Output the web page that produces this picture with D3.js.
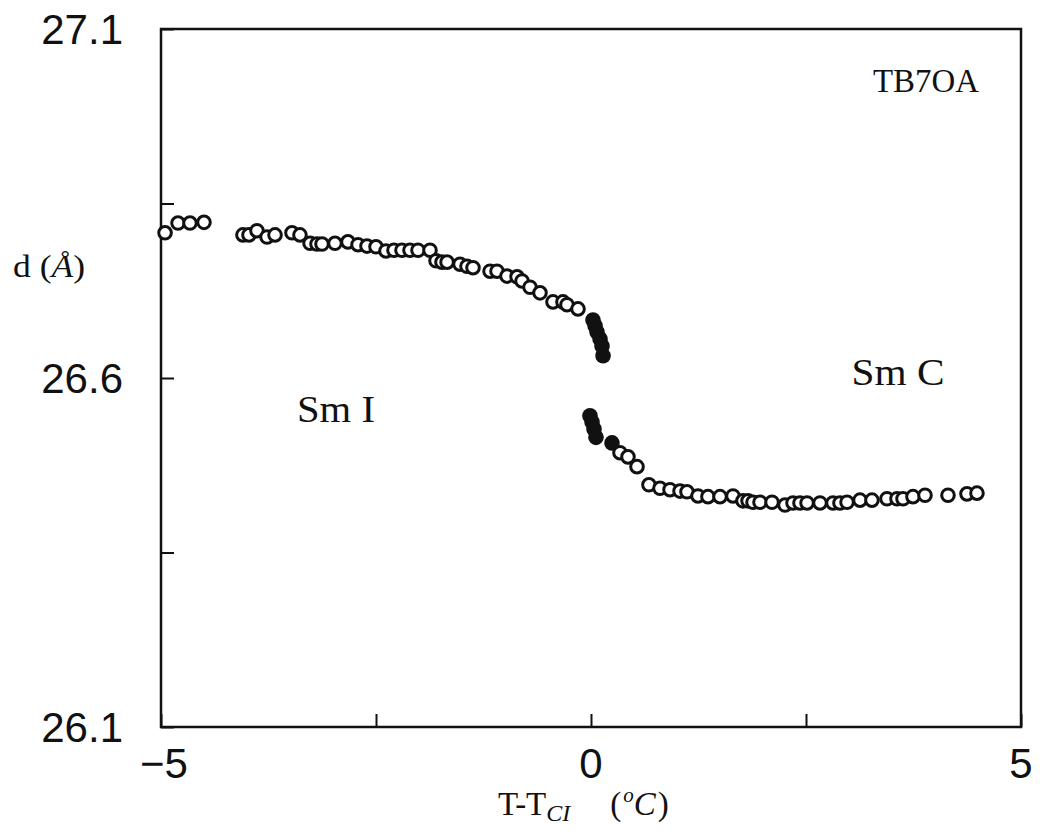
<!DOCTYPE html>
<html>
<head>
<meta charset="utf-8">
<script src="https://cdn.jsdelivr.net/npm/d3@7"></script>
<style>
  body { margin: 0; background: #fff; }
  svg text { fill: #111; }
</style>
</head>
<body>
<div id="chart"></div>
<script>
// open circles (measured, T - T_CI in °C, d in Å)
const openT = [-4.953, -4.802, -4.663, -4.500, -4.047, -3.977, -3.884, -3.767, -3.674, -3.477,
  -3.384, -3.267, -3.186, -3.128, -2.977, -2.826, -2.709, -2.605, -2.500, -2.384,
  -2.291, -2.198, -2.105, -2.012, -1.872, -1.802, -1.733, -1.674, -1.523, -1.442,
  -1.372, -1.174, -1.093, -0.977, -0.860, -0.802, -0.709, -0.593, -0.442, -0.326,
  -0.279, -0.151,
  0.337, 0.430, 0.535, 0.674, 0.802, 0.919, 1.035, 1.116, 1.244, 1.360,
  1.500, 1.651, 1.767, 1.826, 1.884, 1.965, 2.105, 2.256, 2.349, 2.430,
  2.512, 2.663, 2.814, 2.895, 2.977, 3.128, 3.267, 3.442, 3.558, 3.628,
  3.744, 3.884, 4.151, 4.372, 4.488]
const openD = [26.808, 26.822, 26.822, 26.823, 26.805, 26.805, 26.811, 26.802, 26.805, 26.808,
  26.805, 26.793, 26.792, 26.792, 26.793, 26.795, 26.791, 26.789, 26.788, 26.782,
  26.783, 26.783, 26.783, 26.783, 26.783, 26.768, 26.766, 26.766, 26.763, 26.760,
  26.758, 26.753, 26.753, 26.746, 26.745, 26.739, 26.730, 26.722, 26.709, 26.709,
  26.705, 26.699,
  26.493, 26.487, 26.473, 26.447, 26.442, 26.440, 26.438, 26.437, 26.431, 26.430,
  26.430, 26.431, 26.424, 26.424, 26.422, 26.422, 26.422, 26.418, 26.421, 26.421,
  26.421, 26.421, 26.421, 26.421, 26.422, 26.425, 26.425, 26.427, 26.427, 26.427,
  26.430, 26.432, 26.432, 26.434, 26.435]

// filled circles near the transition
const filledT = [0.023, 0.047, 0.070, 0.105, 0.128, 0.140, -0.012, 0.012, 0.035, 0.058, 0.244]
const filledD = [26.683, 26.675, 26.666, 26.656, 26.646, 26.632, 26.546, 26.537, 26.527, 26.515, 26.507]

const xTicks = [-5, -2.5, 0, 2.5, 5]
const xLabels = [-5, 0, 5]
const yTicks = [26.1, 26.35, 26.6, 26.85, 27.1]
const yLabels = [26.1, 26.6, 27.1]

const width = 1040, height = 835
const margin = { top: 29, right: 19, bottom: 108, left: 161 }
const innerW = width - margin.left - margin.right
const innerH = height - margin.top - margin.bottom

const svg = d3.select("#chart").append("svg")
  .attr("width", width)
  .attr("height", height)

const x = d3.scaleLinear().domain([-5, 5]).range([0, innerW])
const y = d3.scaleLinear().domain([26.1, 27.1]).range([innerH, 0])

const g = svg.append("g").attr("transform", `translate(${margin.left},${margin.top})`)

// frame
g.append("rect")
  .attr("width", innerW).attr("height", innerH)
  .attr("fill", "none").attr("stroke", "#111").attr("stroke-width", 2.5)

// inward ticks, labels drawn separately
g.append("g")
  .attr("transform", `translate(0,${innerH})`)
  .call(d3.axisBottom(x).tickValues(xTicks).tickSize(-13).tickFormat(""))
g.append("g")
  .call(d3.axisLeft(y).tickValues(yTicks).tickSize(-13).tickFormat(""))
g.selectAll(".domain").remove()
g.selectAll(".tick line").attr("stroke", "#111").attr("stroke-width", 2)

const sans = "'Liberation Sans', Arial, sans-serif"
const serif = "'Liberation Serif', 'Times New Roman', serif"

g.selectAll(".xlab").data(xLabels).enter().append("text")
  .attr("class", "xlab")
  .attr("x", d => x(d) + (d < 0 ? 3 : 0))
  .attr("y", innerH + 51)
  .attr("text-anchor", "middle")
  .attr("font-family", sans).attr("font-size", 42)
  .text(d => d < 0 ? "\u2212" + Math.abs(d) : d)

g.selectAll(".ylab").data(yLabels).enter().append("text")
  .attr("class", "ylab")
  .attr("x", -38)
  .attr("y", d => y(d) + 15)
  .attr("text-anchor", "end")
  .attr("font-family", sans).attr("font-size", 42)
  .text(d => d.toFixed(1))

// points
g.selectAll(".open").data(openT.map((t, i) => [t, openD[i]])).enter().append("circle")
  .attr("class", "open")
  .attr("cx", d => x(d[0])).attr("cy", d => y(d[1]))
  .attr("r", 6.3)
  .attr("fill", "#fff").attr("stroke", "#111").attr("stroke-width", 3)

g.selectAll(".filled").data(filledT.map((t, i) => [t, filledD[i]])).enter().append("circle")
  .attr("class", "filled")
  .attr("cx", d => x(d[0])).attr("cy", d => y(d[1]))
  .attr("r", 7.8)
  .attr("fill", "#111")

// annotations
svg.append("text")
  .attr("x", 926).attr("y", 92)
  .attr("text-anchor", "middle")
  .attr("font-family", serif).attr("font-size", 34)
  .attr("textLength", 106).attr("lengthAdjust", "spacingAndGlyphs")
  .text("TB7OA")

svg.append("text")
  .attr("x", 336).attr("y", 422)
  .attr("text-anchor", "middle")
  .attr("font-family", serif).attr("font-size", 38)
  .attr("textLength", 78).attr("lengthAdjust", "spacingAndGlyphs")
  .text("Sm I")

svg.append("text")
  .attr("x", 898).attr("y", 385)
  .attr("text-anchor", "middle")
  .attr("font-family", serif).attr("font-size", 38)
  .attr("textLength", 93).attr("lengthAdjust", "spacingAndGlyphs")
  .text("Sm C")

// y label
const yl = svg.append("text")
  .attr("x", 13).attr("y", 277)
  .attr("font-family", serif).attr("font-size", 32)
  .attr("textLength", 72).attr("lengthAdjust", "spacingAndGlyphs")
yl.append("tspan").text("d (")
yl.append("tspan").attr("font-style", "italic").text("Å")
yl.append("tspan").text(")")

// x label
const xl = svg.append("text")
  .attr("x", 498).attr("y", 815)
  .attr("font-family", serif).attr("font-size", 33)
xl.append("tspan").text("T-T")
xl.append("tspan").attr("font-style", "italic").attr("font-size", 24).attr("dy", 6).text("CI")
xl.append("tspan").attr("dy", -6).attr("dx", 40).text("(")
xl.append("tspan").attr("font-style", "italic").attr("font-size", 21).attr("dy", -13).attr("dx", 2).text("o")
xl.append("tspan").attr("font-style", "italic").attr("dy", 13).text("C")
xl.append("tspan").attr("dx", 2).text(")")
</script>
</body>
</html>
